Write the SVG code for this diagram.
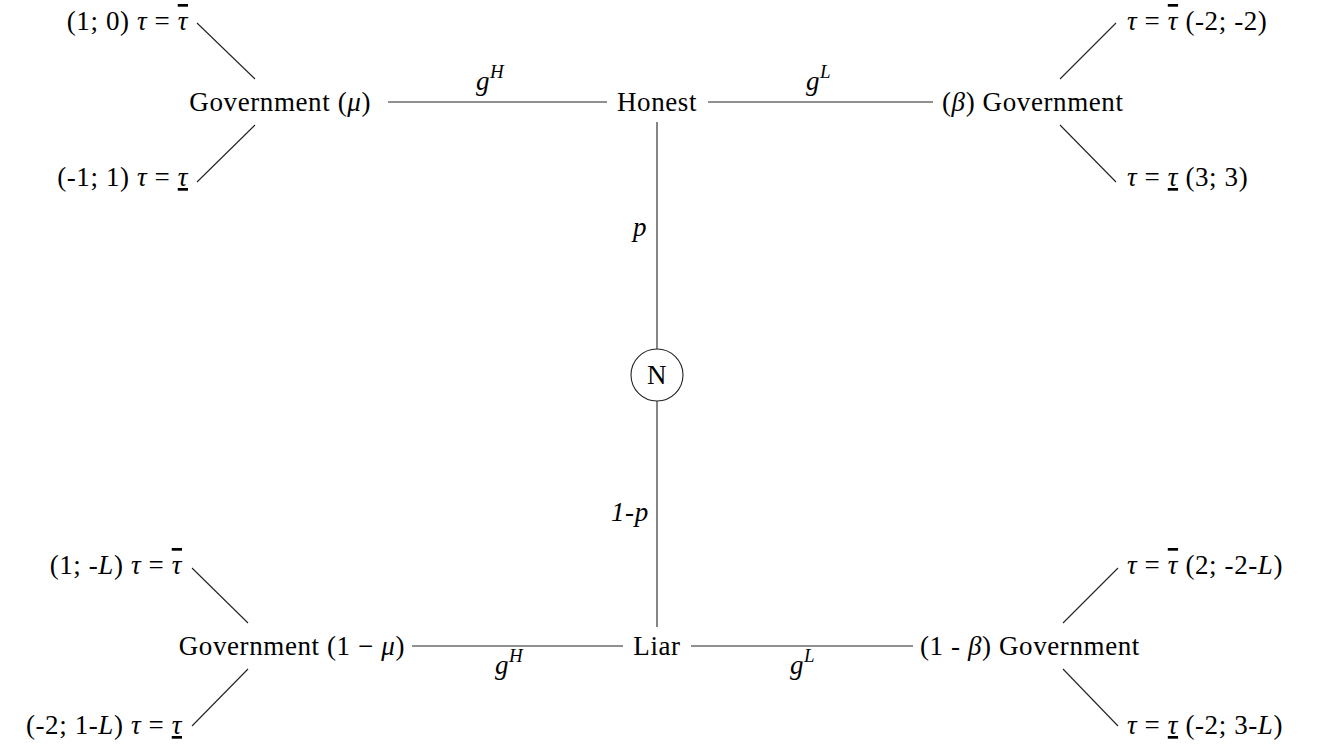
<svg xmlns="http://www.w3.org/2000/svg" width="1323" height="750" viewBox="0 0 1323 750">
<style>
.t{font-family:"Liberation Serif","DejaVu Serif",serif;font-size:27px;letter-spacing:0.6px;fill:#000}
.i{font-style:italic}
.sup{font-size:19px;font-style:italic}
.ov{text-decoration:overline;text-decoration-thickness:1px}
.un{text-decoration:underline;text-decoration-thickness:1px}
.e{stroke:#222;stroke-width:1.1;fill:none}
</style>
<rect width="1323" height="750" fill="#fff"/>
<g id="connectors">
<line class="e" x1="388" y1="102" x2="607" y2="102"/>
<line class="e" x1="708" y1="102" x2="933" y2="102"/>
<line class="e" x1="197" y1="23" x2="255" y2="79"/>
<line class="e" x1="255" y1="125" x2="197" y2="182"/>
<line class="e" x1="1060" y1="79" x2="1116" y2="23"/>
<line class="e" x1="1060" y1="125" x2="1116" y2="182"/>
<line class="e" x1="657" y1="122" x2="657" y2="349"/>
<line class="e" x1="657" y1="401" x2="657" y2="627"/>
<line class="e" x1="412" y1="646" x2="623" y2="646"/>
<line class="e" x1="691" y1="646" x2="913" y2="646"/>
<line class="e" x1="192" y1="568" x2="248" y2="623"/>
<line class="e" x1="248" y1="669" x2="192" y2="726"/>
<line class="e" x1="1063" y1="623" x2="1118" y2="568"/>
<line class="e" x1="1063" y1="669" x2="1118" y2="726"/>
</g>
<g id="edge-labels">
<text class="t i" x="476" y="90">g<tspan class="sup" dy="-12">H</tspan></text>
<text class="t i" x="806" y="90">g<tspan class="sup" dy="-12">L</tspan></text>
<text class="t i" x="633" y="236">p</text>
<text class="t i" x="611" y="521">1-p</text>
<text class="t i" x="495" y="674">g<tspan class="sup" dy="-12">H</tspan></text>
<text class="t i" x="790" y="674">g<tspan class="sup" dy="-12">L</tspan></text>
</g>
<g id="honest"><text class="t" x="657" y="111" text-anchor="middle">Honest</text></g>
<g id="liar"><text class="t" x="657" y="655" text-anchor="middle">Liar</text></g>
<g id="nature"><circle cx="657" cy="375" r="26" fill="#fff" stroke="#222" stroke-width="1.1"/><text class="t" x="657" y="384" text-anchor="middle">N</text></g>
<g id="gov-mu"><text class="t" x="371" y="111" text-anchor="end" xml:space="preserve">Government (<tspan class="i">μ</tspan>)</text></g>
<g id="gov-beta"><text class="t" x="942" y="111" xml:space="preserve">(<tspan class="i">β</tspan>) Government</text></g>
<g id="gov-1mu"><text class="t" x="405" y="655" text-anchor="end" xml:space="preserve">Government (1 − <tspan class="i">μ</tspan>)</text></g>
<g id="gov-1beta"><text class="t" x="920" y="655" xml:space="preserve">(1 - <tspan class="i">β</tspan>) Government</text></g>
<g id="leaf-hm-high"><text class="t" x="188" y="30" text-anchor="end" xml:space="preserve">(1; 0) <tspan class="i">τ</tspan> = <tspan class="i ov">τ</tspan></text></g>
<g id="leaf-hm-low"><text class="t" x="188" y="186" text-anchor="end" xml:space="preserve">(-1; 1) <tspan class="i">τ</tspan> = <tspan class="i un">τ</tspan></text></g>
<g id="leaf-hb-high"><text class="t" x="1127" y="30" xml:space="preserve"><tspan class="i">τ</tspan> = <tspan class="i ov">τ</tspan> (-2; -2)</text></g>
<g id="leaf-hb-low"><text class="t" x="1127" y="186" xml:space="preserve"><tspan class="i">τ</tspan> = <tspan class="i un">τ</tspan> (3; 3)</text></g>
<g id="leaf-lm-high"><text class="t" x="182" y="574" text-anchor="end" xml:space="preserve">(1; -<tspan class="i">L</tspan>) <tspan class="i">τ</tspan> = <tspan class="i ov">τ</tspan></text></g>
<g id="leaf-lm-low"><text class="t" x="182" y="734" text-anchor="end" xml:space="preserve">(-2; 1-<tspan class="i">L</tspan>) <tspan class="i">τ</tspan> = <tspan class="i un">τ</tspan></text></g>
<g id="leaf-lb-high"><text class="t" x="1127" y="574" xml:space="preserve"><tspan class="i">τ</tspan> = <tspan class="i ov">τ</tspan> (2; -2-<tspan class="i">L</tspan>)</text></g>
<g id="leaf-lb-low"><text class="t" x="1127" y="734" xml:space="preserve"><tspan class="i">τ</tspan> = <tspan class="i un">τ</tspan> (-2; 3-<tspan class="i">L</tspan>)</text></g>
</svg>
